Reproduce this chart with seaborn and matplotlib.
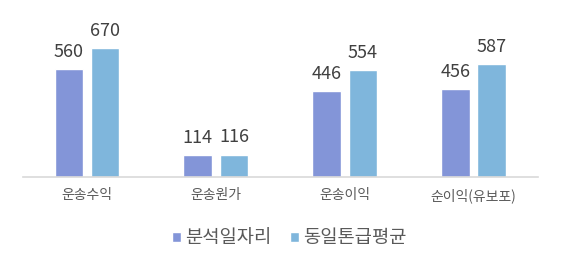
import matplotlib
matplotlib.use("Agg")
import matplotlib.pyplot as plt
import seaborn as sns
import pandas as pd

categories = ["운송수익", "운송원가", "운송이익", "순이익(유보포)"]
series_names = ["분석일자리", "동일톤급평균"]
values_a = [560, 114, 446, 456]
values_b = [670, 116, 554, 587]
colors = ["#8395D8", "#7FB6DC"]

df = pd.DataFrame({
    "cat": categories * 2,
    "series": [series_names[0]] * 4 + [series_names[1]] * 4,
    "val": values_a + values_b,
})

sns.set_theme(style="white")
plt.rcParams["font.family"] = ["Noto Sans CJK KR", "DejaVu Sans"]

W, H = 561, 266
fig = plt.figure(figsize=(W / 100, H / 100), dpi=100)
ax_left, ax_right = 22.6, 538
ax_bottom_px, ax_top_px = 177, 10
ax = fig.add_axes([ax_left / W, (H - ax_bottom_px) / H,
                   (ax_right - ax_left) / W, (ax_bottom_px - ax_top_px) / H])

sns.barplot(data=df, x="cat", y="val", hue="series", palette=colors,
            width=0.564, gap=0.216, ax=ax, legend=True, errorbar=None,
            saturation=1)

ymax = (ax_bottom_px - ax_top_px) / (129 / 670)
ax.set_ylim(0, ymax)
ax.set_xlim(-0.5, 3.5)

for cont in ax.containers:
    ax.bar_label(cont, fmt="%d", padding=6, fontsize=13, color="#404040")

ax.set_xlabel("")
ax.set_ylabel("")
ax.set_yticks([])
for s in ["top", "left", "right"]:
    ax.spines[s].set_visible(False)
ax.spines["bottom"].set_color("#d9d9d9")
ax.spines["bottom"].set_linewidth(1.2)
ax.tick_params(axis="x", length=0, pad=8, labelsize=10, labelcolor="#595959")

handles, labels = ax.get_legend_handles_labels()
ax.legend_.remove()
fig.legend(handles, labels, loc="center", bbox_to_anchor=(289 / W, (H - 238) / H),
           ncol=2, frameon=False, fontsize=13.5, handlelength=0.5, handleheight=0.5,
           handletextpad=0.2, columnspacing=1.0, labelcolor="#595959")

fig.savefig("out.png", dpi=100)
